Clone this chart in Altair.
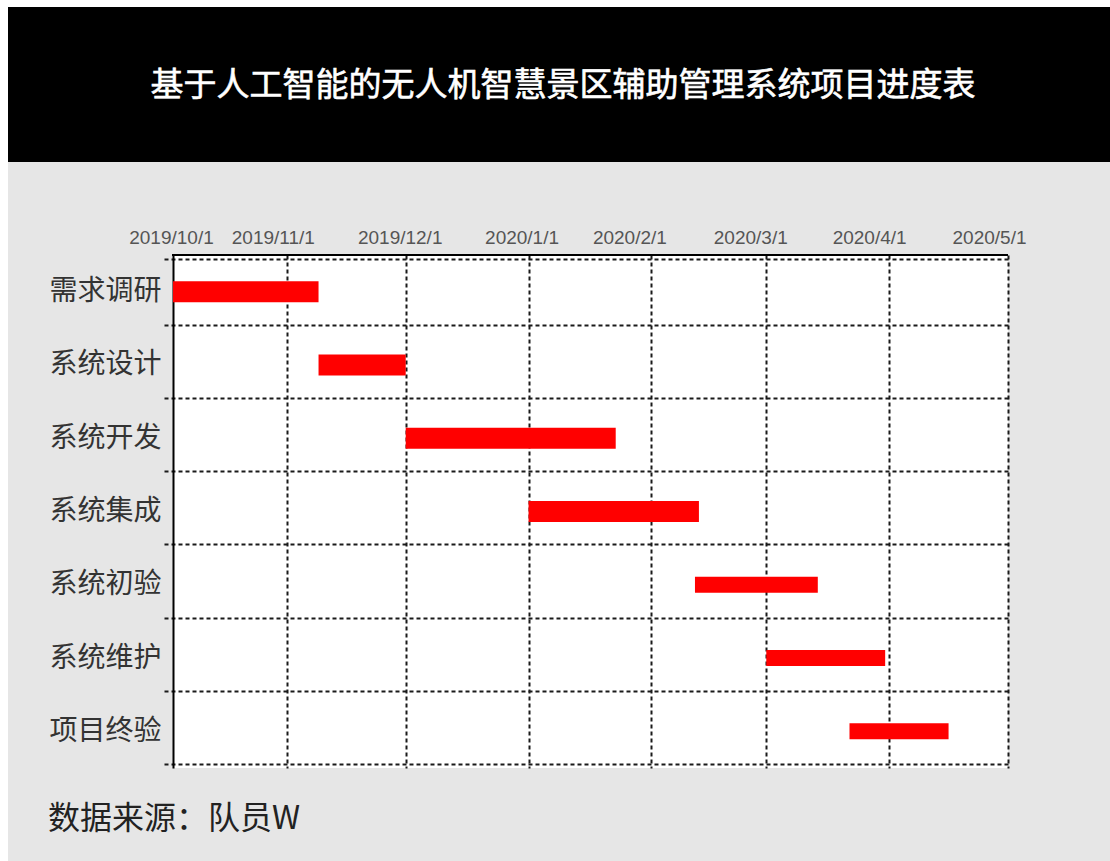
import altair as alt
import pandas as pd

title_text = "基于人工智能的无人机智慧景区辅助管理系统项目进度表"
source_text = "数据来源：队员W"

tasks = ["需求调研", "系统设计", "系统开发", "系统集成", "系统初验", "系统维护", "项目终验"]
starts = ["2019-10-01", "2019-11-09", "2019-12-01", "2020-01-01", "2020-02-12", "2020-03-01", "2020-03-22"]
ends = ["2019-11-09", "2019-12-01", "2020-01-23", "2020-02-13", "2020-03-14", "2020-03-31", "2020-04-16"]
tick_dates = ["2019-10-01", "2019-11-01", "2019-12-01", "2020-01-01", "2020-02-01",
              "2020-03-01", "2020-04-01", "2020-05-01"]

df = pd.DataFrame({"task": tasks, "start": starts, "end": ends})


def dt(s):
    y, m, d = (int(v) for v in s.split("-"))
    return alt.DateTime(year=y, month=m, date=d)


tick_vals = [dt(s) for s in tick_dates]

W, H = 835, 513
PAD_L, PAD_T, PAD_R, PAD_B = 173, 255, 102, 93

offset_expr = ("month(datum.value)==9 ? 7 : month(datum.value)==10 ? -14 : "
               "month(datum.value)==11 ? -6 : month(datum.value)==0 ? -7 : "
               "month(datum.value)==1 ? -22 : month(datum.value)==2 ? -16 : "
               "month(datum.value)==3 ? -20 : -19")
grid_opacity_expr = "month(datum.value)==9 ? 0 : 1"

bars = alt.Chart(df).mark_bar(color="#ff0000", clip=True).encode(
    x=alt.X("start:T",
            scale=alt.Scale(domain=[tick_vals[0], tick_vals[-1]], nice=False, range=[-9, W]),
            axis=alt.Axis(orient="top", title=None, values=tick_vals, format="%Y/%-m/%-d",
                          labelFont="Liberation Sans", labelFontSize=19, labelColor="#555555",
                          labelPadding=8, ticks=False, domain=False,
                          grid=True, gridColor="#1a1a1a", gridDash=[4, 3], gridWidth=2,
                          gridOpacity={"expr": grid_opacity_expr},
                          labelOffset={"expr": offset_expr}, labelFlush=False,
                          labelOverlap=False)),
    x2="end:T",
    y=alt.Y("task:N", sort=tasks,
            axis=alt.Axis(title=None, labelFont="Noto Sans CJK SC", labelFontSize=28,
                          labelColor="#333333", labelPadding=12, ticks=False,
                          domainColor="#000000", domainWidth=2, grid=True, tickBand="extent",
                          gridColor="#1a1a1a", gridDash=[4, 3], gridWidth=2)),
    size=alt.condition(alt.FieldOneOfPredicate(field="task", oneOf=tasks[4:]),
                       alt.value(16), alt.value(21)),
)

one = pd.DataFrame({"k": [0]})

top_line = alt.Chart(one).mark_rule(color="#000000", strokeWidth=2).encode(
    x=alt.value(-1), x2=alt.value(W), y=alt.value(0))
banner = alt.Chart(one).mark_rect(color="#000000").encode(
    x=alt.value(-165), x2=alt.value(1110 - PAD_L),
    y=alt.value(7 - PAD_T), y2=alt.value(162 - PAD_T))
white_top = alt.Chart(one).mark_rect(color="#ffffff").encode(
    x=alt.value(-PAD_L), x2=alt.value(1110 - PAD_L),
    y=alt.value(-PAD_T), y2=alt.value(7 - PAD_T))
white_left = alt.Chart(one).mark_rect(color="#ffffff").encode(
    x=alt.value(-PAD_L), x2=alt.value(-165),
    y=alt.value(-PAD_T), y2=alt.value(861 - PAD_T))
title = alt.Chart(one).mark_text(
    text=title_text, color="#ffffff", fontSize=33, font="Noto Sans CJK SC",
    stroke="#ffffff", strokeWidth=0.6,
    align="center", baseline="middle").encode(
    x=alt.value(563 - PAD_L), y=alt.value(86 - PAD_T))
footer = alt.Chart(one).mark_text(
    text=source_text, color="#222222", fontSize=32, font="Noto Sans CJK SC",
    align="left", baseline="middle").encode(
    x=alt.value(48 - PAD_L), y=alt.value(819 - PAD_T))

chart = alt.layer(white_top, white_left, banner, title, footer, bars, top_line).properties(
    width=W, height=H,
    autosize=alt.AutoSizeParams(type="none"),
    padding={"left": PAD_L, "top": PAD_T, "right": PAD_R, "bottom": PAD_B},
    background="#e6e6e6",
).configure_view(fill="#ffffff", stroke=None)

chart.save("out.html", embed_options={"renderer": "svg", "actions": False})
